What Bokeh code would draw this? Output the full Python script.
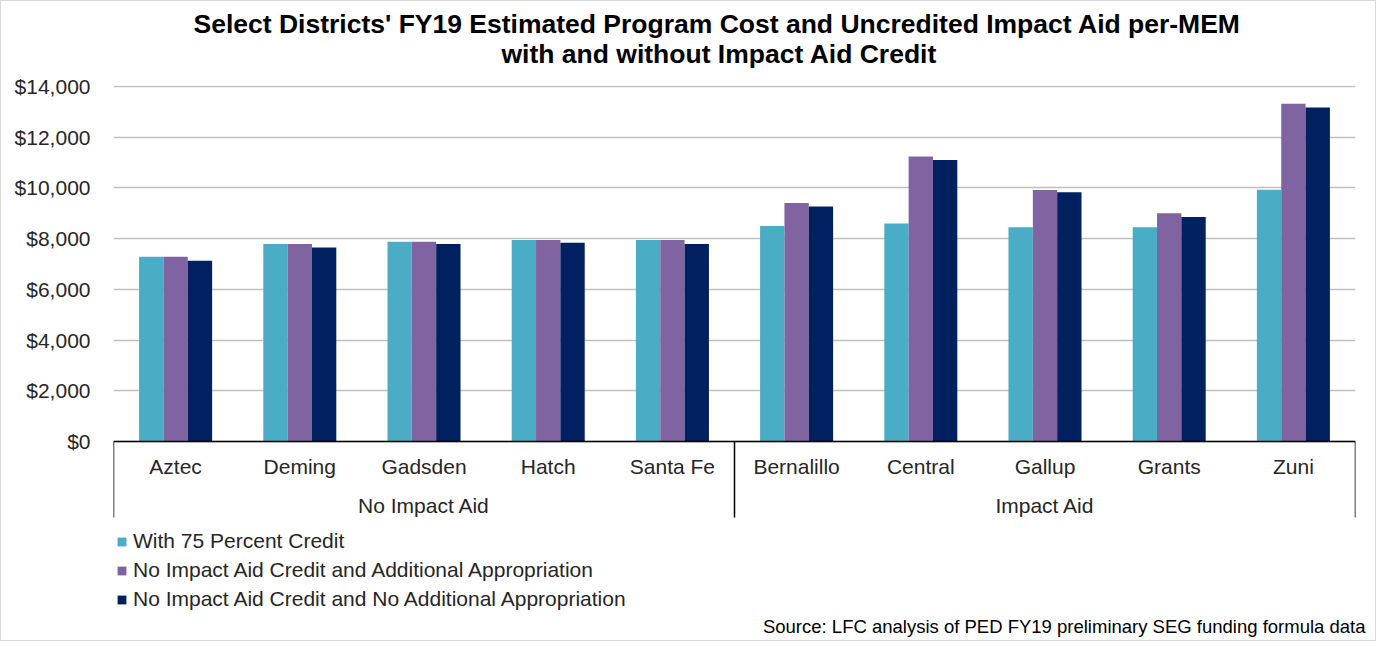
from bokeh.plotting import figure
from bokeh.models import (ColumnDataSource, Range1d, FixedTicker, NumeralTickFormatter,
                          Title, Legend, LegendItem)
from bokeh.core.properties import value
from bokeh.embed import file_html
from bokeh.resources import INLINE

# ---- data ----
districts = ["Aztec", "Deming", "Gadsden", "Hatch", "Santa Fe",
             "Bernalillo", "Central", "Gallup", "Grants", "Zuni"]
groups = ["No Impact Aid"] * 5 + ["Impact Aid"] * 5
credit_75 = [7290, 7790, 7880, 7950, 7950, 8500, 8600, 8450, 8450, 9930]
no_credit_add = [7290, 7790, 7880, 7950, 7950, 9410, 11240, 9920, 9000, 13320]
no_credit_no_add = [7130, 7650, 7790, 7840, 7790, 9270, 11100, 9830, 8850, 13170]
series_names = ["With 75 Percent Credit",
                "No Impact Aid Credit and Additional Appropriation",
                "No Impact Aid Credit and No Additional Appropriation"]
series_colors = ["#4BACC6", "#8064A2", "#002060"]
y_ticks = [0, 2000, 4000, 6000, 8000, 10000, 12000, 14000]
title_lines = ["Select Districts' FY19 Estimated Program Cost and Uncredited Impact Aid per-MEM",
               "with and without Impact Aid Credit"]
source_note = "Source: LFC analysis of PED FY19 preliminary SEG funding formula data"

FONT = "Liberation Sans"
TXT = "#262626"

n = len(districts)
p = figure(width=1376, height=641, output_backend="svg", toolbar_location=None,
           x_range=Range1d(-0.5, n - 0.5), y_range=Range1d(-6744, 14040),
           min_border_left=112, min_border_right=22, min_border_top=84, min_border_bottom=30)
p.styles = {"border": "1px solid #D9D9D9"}
p.outline_line_color = None
p.background_fill_color = "white"

# titles (added bottom line first so it sits nearest the frame)
p.add_layout(Title(text=title_lines[1], align="left", text_font=FONT, text_font_size="26.5px",
                   text_font_style="bold", text_color="black", standoff=33, offset=388), "above")
p.add_layout(Title(text=title_lines[0], align="left", text_font=FONT, text_font_size="26.5px",
                   text_font_style="bold", text_color="black", standoff=-36, offset=80), "above")
p.add_layout(Title(text=source_note, align="right", text_font=FONT, text_font_size="18.5px",
                   text_font_style="normal", text_color="black", standoff=2, offset=-10), "below")

xs = list(range(n))
bw = 0.196
offsets = [-bw, 0.0, bw]
vals = [credit_75, no_credit_add, no_credit_no_add]
items = []
for name, col, off, v in zip(series_names, series_colors, offsets, vals):
    src = ColumnDataSource(dict(x=[xi + off for xi in xs], top=v))
    r = p.vbar(x="x", top="top", bottom=0, width=bw, source=src, fill_color=col,
               line_color=None)
    items.append(LegendItem(label=name, renderers=[r]))

# y axis
p.yaxis.ticker = FixedTicker(ticks=y_ticks)
p.yaxis.formatter = NumeralTickFormatter(format="$0,0")
p.yaxis.axis_line_color = None
p.yaxis.major_tick_line_color = None
p.yaxis.minor_tick_line_color = None
p.yaxis.major_label_text_font = FONT
p.yaxis.major_label_text_font_size = "21px"
p.yaxis.major_label_text_color = TXT
p.yaxis.major_label_standoff = 17
p.xaxis.visible = False
p.xgrid.grid_line_color = None
p.ygrid.ticker = FixedTicker(ticks=y_ticks)
p.ygrid.grid_line_color = "#BFBFBF"
p.ygrid.grid_line_width = 1.5

# category axis box
px_per_unit = 0.025357
box_bottom = -76 / px_per_unit
p.segment(x0=[-0.5], y0=[0], x1=[n - 0.5], y1=[0], line_color="black", line_width=1.5)
bounds = [-0.5] + [i - 0.5 for i in range(1, n) if groups[i] != groups[i - 1]] + [n - 0.5]
p.segment(x0=bounds, y0=[0] * len(bounds), x1=bounds, y1=[box_bottom] * len(bounds),
          line_color="black", line_width=1.5)
p.text(x=xs, y=[-25 / px_per_unit] * n, text=districts, text_align="center",
       text_baseline="middle", text_font=value(FONT), text_font_size="21px", text_color=TXT)
gnames, gcenters = [], []
for a, b in zip(bounds[:-1], bounds[1:]):
    gnames.append(groups[int(a + 0.5)])
    gcenters.append((a + b) / 2)
p.text(x=gcenters, y=[-64 / px_per_unit] * len(gnames), text=gnames, text_align="center",
       text_baseline="middle", text_font=value(FONT), text_font_size="21px", text_color=TXT)

legend = Legend(items=items, location=(3, 1), orientation="vertical",
                label_text_font=FONT, label_text_font_size="21px", label_text_color=TXT,
                glyph_width=11, glyph_height=11, label_standoff=6, spacing=5,
                label_height=20, padding=0, margin=0,
                border_line_color=None, background_fill_alpha=0)
p.add_layout(legend, "center")

open("out.html", "w").write(file_html(p, INLINE))
